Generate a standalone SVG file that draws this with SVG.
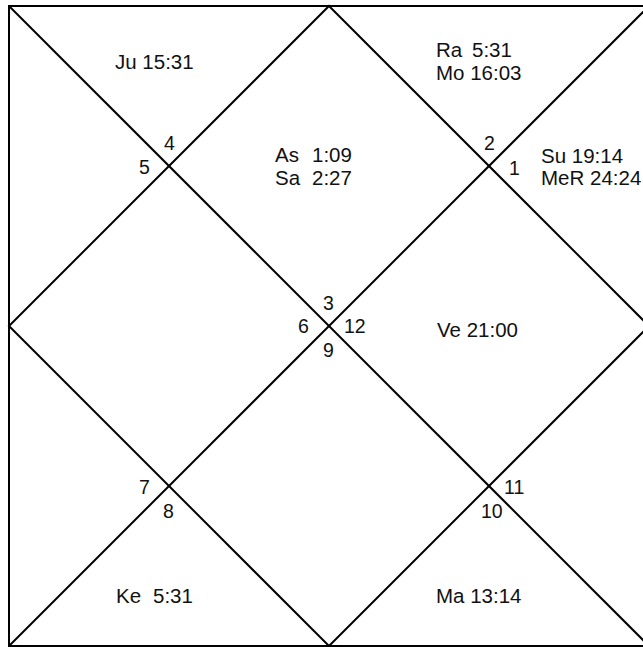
<svg xmlns="http://www.w3.org/2000/svg" width="643" height="647" viewBox="0 0 643 647">
<style>
.ln{stroke:#000;stroke-width:2;fill:none}
.t{font-family:"Liberation Sans",Arial,sans-serif;font-size:20.5px;fill:#111}
.n{font-family:"Liberation Sans",Arial,sans-serif;font-size:19.5px;fill:#111}
</style>
<rect width="643" height="647" fill="#fff"/>
<g id="connectors">
<rect class="ln" x="9" y="6" width="640" height="640"/>
<line class="ln" x1="9" y1="6" x2="649" y2="646"/>
<line class="ln" x1="649" y1="6" x2="9" y2="646"/>
<polygon class="ln" points="329,6 649,326 329,646 9,326"/>
</g>
<g id="house1"><text class="n" x="509" y="175">1</text><text class="t" x="541" y="163">Su 19:14</text><text class="t" x="541" y="185">MeR 24:24</text></g>
<g id="house2"><text class="n" x="484" y="150">2</text><text class="t" x="436" y="57">Ra</text><text class="t" x="472" y="57">5:31</text><text class="t" x="436" y="80">Mo 16:03</text></g>
<g id="house3"><text class="n" x="323" y="310">3</text><text class="t" x="275" y="162">As</text><text class="t" x="312" y="162">1:09</text><text class="t" x="275" y="185">Sa</text><text class="t" x="312" y="185">2:27</text></g>
<g id="house4"><text class="n" x="164" y="150">4</text><text class="t" x="115" y="69">Ju 15:31</text></g>
<g id="house5"><text class="n" x="139" y="174">5</text></g>
<g id="house6"><text class="n" x="298" y="333">6</text></g>
<g id="house7"><text class="n" x="139" y="494">7</text></g>
<g id="house8"><text class="n" x="163" y="518">8</text><text class="t" x="116" y="603">Ke</text><text class="t" x="153" y="603">5:31</text></g>
<g id="house9"><text class="n" x="323" y="357">9</text></g>
<g id="house10"><text class="n" x="481" y="518">10</text><text class="t" x="436" y="603">Ma 13:14</text></g>
<g id="house11"><text class="n" x="504" y="494">11</text></g>
<g id="house12"><text class="n" x="344" y="333">12</text><text class="t" x="437" y="337">Ve 21:00</text></g>
</svg>
